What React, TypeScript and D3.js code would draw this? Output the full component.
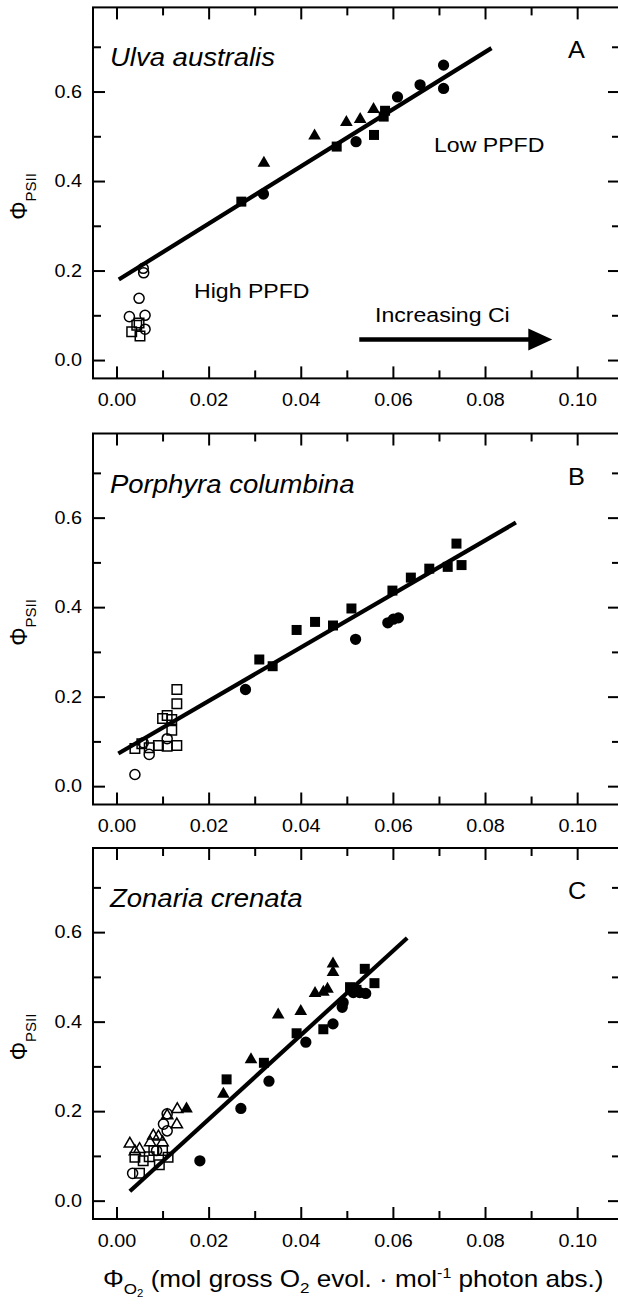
import React, { useEffect, useRef } from 'react';
import * as d3 from 'd3';

type Pt = [number, number];

// tick values
const xMajor = [0, 0.02, 0.04, 0.06, 0.08, 0.1];
const xMinor = [0.01, 0.03, 0.05, 0.07, 0.09];
const yMajor = [0, 0.2, 0.4, 0.6];
const yMinor = [0.1, 0.3, 0.5, 0.7];

const speciesNames = ['Ulva australis', 'Porphyra columbina', 'Zonaria crenata'];
const panelLetters = ['A', 'B', 'C'];

// Panel A - Ulva australis
const ulvaLowCircle: Pt[] = [[0.071, 0.659], [0.0659, 0.615], [0.071, 0.607], [0.061, 0.588], [0.052, 0.488], [0.0319, 0.371]];
const ulvaLowSquare: Pt[] = [[0.0271, 0.354], [0.0478, 0.477], [0.0559, 0.503], [0.058, 0.544], [0.0583, 0.557]];
const ulvaLowTriangle: Pt[] = [[0.032, 0.44], [0.043, 0.501], [0.0499, 0.531], [0.0529, 0.538], [0.0558, 0.56]];
const ulvaHighCircle: Pt[] = [[0.0059, 0.195], [0.0058, 0.205], [0.0049, 0.138], [0.0028, 0.097], [0.0062, 0.1], [0.0062, 0.069]];
const ulvaHighSquare: Pt[] = [[0.0033, 0.063], [0.0051, 0.054], [0.0044, 0.078], [0.0049, 0.083]];
const ulvaFit: Pt[] = [[0.0005, 0.18], [0.0814, 0.697]];
const ulvaArrow: Pt[] = [[0.0527, 0.046], [0.0946, 0.046]];

// Panel B - Porphyra columbina
const porphyraLowSquare: Pt[] = [[0.0738, 0.542], [0.0749, 0.494], [0.0719, 0.49], [0.0679, 0.486], [0.0639, 0.466], [0.0599, 0.437], [0.051, 0.397], [0.047, 0.359], [0.0431, 0.367], [0.0391, 0.349], [0.0339, 0.268], [0.031, 0.283]];
const porphyraLowCircle: Pt[] = [[0.028, 0.216], [0.0519, 0.328], [0.0589, 0.365], [0.0601, 0.373], [0.0612, 0.376]];
const porphyraHighSquare: Pt[] = [[0.0131, 0.216], [0.0131, 0.184], [0.01, 0.151], [0.011, 0.158], [0.012, 0.149], [0.012, 0.125], [0.0131, 0.091], [0.011, 0.089], [0.0091, 0.091], [0.0071, 0.086], [0.004, 0.084], [0.0055, 0.095]];
const porphyraHighCircle: Pt[] = [[0.004, 0.026], [0.0071, 0.071], [0.011, 0.106], [0.0058, 0.097]];
const porphyraFit: Pt[] = [[0.0004, 0.073], [0.0867, 0.589]];

// Panel C - Zonaria crenata
const zonariaLowCircle: Pt[] = [[0.0181, 0.089], [0.027, 0.206], [0.0331, 0.267], [0.0411, 0.354], [0.047, 0.395], [0.049, 0.432], [0.0492, 0.443], [0.0514, 0.465], [0.0528, 0.465], [0.0541, 0.463]];
const zonariaLowSquare: Pt[] = [[0.0239, 0.271], [0.032, 0.308], [0.0391, 0.374], [0.0449, 0.383], [0.0507, 0.477], [0.0521, 0.471], [0.0539, 0.518], [0.056, 0.486]];
const zonariaLowTriangle: Pt[] = [[0.0152, 0.205], [0.0232, 0.238], [0.0292, 0.315], [0.0351, 0.415], [0.04, 0.423], [0.0431, 0.463], [0.0449, 0.466], [0.0458, 0.473], [0.047, 0.51], [0.047, 0.529]];
const zonariaHighTriangle: Pt[] = [[0.0029, 0.127], [0.005, 0.115], [0.004, 0.11], [0.0073, 0.13], [0.008, 0.145], [0.0091, 0.143], [0.01, 0.13], [0.011, 0.19], [0.0131, 0.17], [0.0132, 0.204]];
const zonariaHighCircle: Pt[] = [[0.011, 0.194], [0.0102, 0.171], [0.011, 0.156], [0.0035, 0.061], [0.0087, 0.112]];
const zonariaHighSquare: Pt[] = [[0.004, 0.097], [0.005, 0.061], [0.0058, 0.089], [0.0071, 0.098], [0.0081, 0.112], [0.01, 0.112], [0.0093, 0.08], [0.0112, 0.097]];
const zonariaFit: Pt[] = [[0.0029, 0.021], [0.0631, 0.587]];

interface IPanel {
    filledCircle: Pt[]
    filledSquare: Pt[]
    filledTriangle: Pt[]
    openCircle: Pt[]
    openSquare: Pt[]
    openTriangle: Pt[]
    fit: Pt[]
}

const panels: IPanel[] = [
    { filledCircle: ulvaLowCircle, filledSquare: ulvaLowSquare, filledTriangle: ulvaLowTriangle, openCircle: ulvaHighCircle, openSquare: ulvaHighSquare, openTriangle: [], fit: ulvaFit },
    { filledCircle: porphyraLowCircle, filledSquare: porphyraLowSquare, filledTriangle: [], openCircle: porphyraHighCircle, openSquare: porphyraHighSquare, openTriangle: [], fit: porphyraFit },
    { filledCircle: zonariaLowCircle, filledSquare: zonariaLowSquare, filledTriangle: zonariaLowTriangle, openCircle: zonariaHighCircle, openSquare: zonariaHighSquare, openTriangle: zonariaHighTriangle, fit: zonariaFit },
];

const WIDTH = 618;
const HEIGHT = 1304;
const LEFT = 93;
const RIGHT = 620;
const PANEL_H = 371;
const PANEL_TOPS = [7.4, 433.5, 848];
const FONT = '"Liberation Sans", Arial, Helvetica, sans-serif';
const SX = 1.1; // the original type is a bit wide

const App = () => {
    const ref = useRef<SVGSVGElement>(null);

    useEffect(() => {
        ref.current != null && plotChart();
    }, []);

    const plotChart = () => {
        const svg = d3.select(ref.current);
        svg.selectAll('*').remove();

        const x = d3.scaleLinear().domain([-0.0051, 0.1093]).range([LEFT, RIGHT]);
        const y = d3.scaleLinear().domain([-0.041, 0.788]).range([PANEL_H, 0]);

        const text = (g: any, tx: number, ty: number, str: string, size: number) =>
            g.append('text')
                .attr('transform', `translate(${tx},${ty}) scale(${SX},1)`)
                .style('font-family', FONT)
                .style('font-size', size + 'px')
                .attr('fill', '#000')
                .text(str);

        panels.forEach((p, i) => {
            const g = svg.append('g').attr('transform', `translate(0,${PANEL_TOPS[i]})`);

            // ticks, all pointing inward
            const axis = (gen: any, tx: number, ty: number) => {
                const a = g.append('g').attr('transform', `translate(${tx},${ty})`).call(gen);
                a.select('.domain').remove();
                a.selectAll('line').attr('stroke', '#000').attr('stroke-width', 2);
                a.attr('font-family', FONT).attr('font-size', 18);
                a.selectAll('text').attr('fill', '#000').attr('transform', `scale(${SX},1)`);
                return a;
            };
            const none = () => '';
            axis(d3.axisBottom(x).tickValues(xMajor).tickSize(-12).tickPadding(15).tickFormat(d3.format('.2f') as any), 0, PANEL_H);
            axis(d3.axisBottom(x).tickValues(xMinor).tickSize(-8).tickFormat(none), 0, PANEL_H);
            axis(d3.axisTop(x).tickValues(xMajor).tickSize(-12).tickFormat(none), 0, 0);
            axis(d3.axisTop(x).tickValues(xMinor).tickSize(-8).tickFormat(none), 0, 0);
            axis(d3.axisLeft(y).tickValues(yMajor).tickSize(-12).tickPadding(10).tickFormat(d3.format('.1f') as any), LEFT, 0);
            axis(d3.axisLeft(y).tickValues(yMinor).tickSize(-8).tickFormat(none), LEFT, 0);
            axis(d3.axisRight(y).tickValues(yMajor).tickSize(-12).tickFormat(none), RIGHT, 0);
            axis(d3.axisRight(y).tickValues(yMinor).tickSize(-8).tickFormat(none), RIGHT, 0);

            // frame
            g.append('rect')
                .attr('x', LEFT).attr('y', 0)
                .attr('width', RIGHT - LEFT).attr('height', PANEL_H)
                .attr('fill', 'none').attr('stroke', '#000').attr('stroke-width', 2);

            // y title
            const yt = g.append('text')
                .attr('transform', `translate(27,189) rotate(-90)`)
                .attr('text-anchor', 'middle')
                .style('font-family', FONT)
                .style('font-size', '23px');
            yt.append('tspan').text('Φ');
            yt.append('tspan').attr('dy', 9).style('font-size', '15px').text('PSII');

            // regression line
            const line = d3.line<Pt>().x(d => x(d[0])).y(d => y(d[1]));
            g.append('path')
                .datum(p.fit)
                .attr('fill', 'none')
                .attr('stroke', '#000')
                .attr('stroke-width', 4.2)
                .attr('d', line);

            // markers
            const marker = (data: Pt[], type: any, size: number, filled: boolean) => {
                g.append('g').selectAll('path')
                    .data(data)
                    .enter().append('path')
                    .attr('d', d3.symbol().type(type).size(size)() as string)
                    .attr('transform', d => `translate(${x(d[0])},${y(d[1])})`)
                    .attr('fill', filled ? '#000' : 'none')
                    .attr('stroke', '#000')
                    .attr('stroke-width', filled ? 0 : 1.5);
            };
            marker(p.openSquare, d3.symbolSquare, 90, false);
            marker(p.openCircle, d3.symbolCircle, 80, false);
            marker(p.openTriangle, d3.symbolTriangle, 55, false);
            marker(p.filledSquare, d3.symbolSquare, 100, true);
            marker(p.filledCircle, d3.symbolCircle, 100, true);
            marker(p.filledTriangle, d3.symbolTriangle, 70, true);

            // species name and panel letter
            text(g, 110, 59, speciesNames[i], 25).style('font-style', 'italic');
            text(g, 568, 51, panelLetters[i], 23);

            if (i === 0) {
                text(g, 434, 145, 'Low PPFD', 21);
                text(g, 194, 291, 'High PPFD', 21);
                text(g, 375, 315, 'Increasing Ci', 21);
                const ax0 = x(ulvaArrow[0][0]);
                const ax1 = x(ulvaArrow[1][0]);
                const ay = y(ulvaArrow[0][1]);
                g.append('line')
                    .attr('x1', ax0).attr('x2', ax1 - 22)
                    .attr('y1', ay).attr('y2', ay)
                    .attr('stroke', '#000').attr('stroke-width', 4.5);
                g.append('path')
                    .attr('d', `M${ax1},${ay} L${ax1 - 24},${ay - 11} L${ax1 - 24},${ay + 11} Z`)
                    .attr('fill', '#000');
            }
        });

        // x title
        const xt = svg.append('text')
            .attr('transform', `translate(103,1287) scale(1.135,1)`)
            .style('font-family', FONT)
            .style('font-size', '23px');
        xt.append('tspan').text('Φ');
        xt.append('tspan').attr('dy', 7).style('font-size', '15px').text('O');
        xt.append('tspan').attr('dy', 3).style('font-size', '10px').text('2');
        xt.append('tspan').attr('dy', -10).text(' (mol gross O');
        xt.append('tspan').attr('dy', 6).style('font-size', '15px').text('2');
        xt.append('tspan').attr('dy', -6).text(' evol. · mol');
        xt.append('tspan').attr('dy', -9).style('font-size', '14px').text('-1');
        xt.append('tspan').attr('dy', 9).text(' photon abs.)');
    };

    return (
        <svg ref={ref} width={WIDTH} height={HEIGHT}
            style={{ position: 'absolute', left: 0, top: 0, background: '#fff' }} />
    );
};

export default App;
